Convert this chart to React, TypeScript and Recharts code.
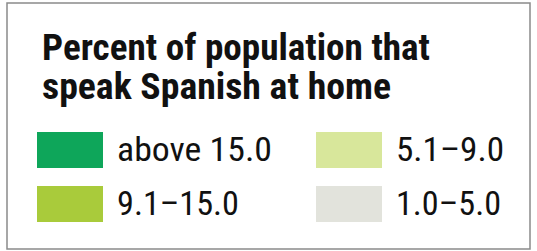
import React from 'react';
import { BarChart, Bar, Legend } from 'recharts';

const titleLines = ['Percent of population that', 'speak Spanish at home'];
const categories = ['above 15.0', '9.1–15.0', '5.1–9.0', '1.0–5.0'];
const colors = ['#0ea65a', '#a9cb3b', '#d8e79b', '#e2e3dc'];
const keys = ['k0', 'k1', 'k2', 'k3'];

const chartData: any[] = [];

const titleWidths = [388, 349];
const labelWidths = [155, 122, 108, 105];

const FONT = '"Liberation Sans Narrow", "Roboto Condensed", "Liberation Sans", Arial, sans-serif';

const renderLegend = (props: any) => {
  const { payload } = props;
  return (
    <svg width={537} height={251} style={{ display: 'block' }}>
      <rect x={0} y={0} width={537} height={251} fill="#fff" />
      <rect x={7} y={3} width={523} height={246} fill="#fff" stroke="#8a8a8a" strokeWidth={1.5} />
      {titleLines.map((t, i) => (
        <text
          key={t}
          x={42}
          y={60 + i * 39}
          fontFamily={FONT}
          fontWeight="bold"
          fontSize={37}
          fill="#111"
          textLength={titleWidths[i]}
          lengthAdjust="spacingAndGlyphs"
        >
          {t}
        </text>
      ))}
      {(payload || []).map((entry: any) => {
        const i = categories.indexOf(entry.value);
        const col = Math.floor(i / 2);
        const row = i % 2;
        const sx = col === 0 ? 37 : 316;
        const sy = row === 0 ? 132 : 186;
        return (
          <g key={entry.value}>
            <rect x={sx} y={sy} width={66} height={36} fill={entry.color} />
            <text
              x={sx + 80}
              y={sy + 29}
              fontFamily={FONT}
              fontSize={34}
              fill="#111"
              textLength={labelWidths[i]}
              lengthAdjust="spacingAndGlyphs"
            >
              {entry.value}
            </text>
          </g>
        );
      })}
    </svg>
  );
};

const App = () => {
  return (
    <div style={{ position: 'absolute', left: 0, top: 0 }}>
      <BarChart width={537} height={251} data={chartData} margin={{ top: 0, right: 0, bottom: 0, left: 0 }}>
        {categories.map((c, i) => (
          <Bar key={c} dataKey={keys[i]} name={c} fill={colors[i]} isAnimationActive={false} />
        ))}
        <Legend
          content={renderLegend}
          wrapperStyle={{ position: 'absolute', left: 0, top: 0, width: 537, height: 251 }}
        />
      </BarChart>
    </div>
  );
};

export default App;
